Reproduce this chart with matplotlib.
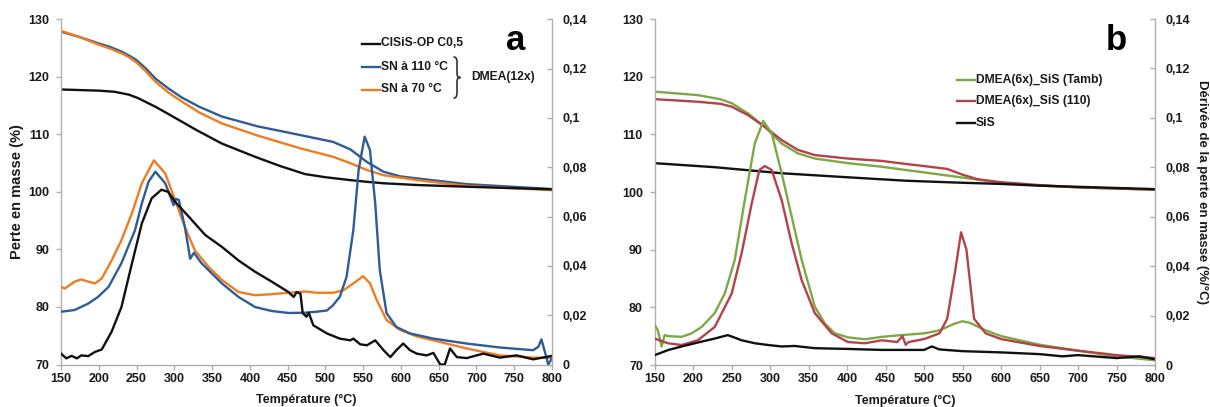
import matplotlib
matplotlib.use('Agg')
import matplotlib.pyplot as plt
from matplotlib.lines import Line2D
from matplotlib.path import Path
from matplotlib.patches import PathPatch

plt.rcParams['font.family'] = ['Liberation Sans', 'DejaVu Sans']
plt.rcParams['font.weight'] = 'bold'

# ---------------- Panel a : TG (mass, %) ----------------
a_blue_tg_T = [150, 175, 200, 215, 230, 240, 250, 262, 275, 292, 310, 333, 363, 410, 466, 510, 533, 555, 577, 599, 621, 687, 800]
a_blue_tg_v = [127.85, 126.9, 125.8, 125.2, 124.4, 123.7, 122.9, 121.5, 119.7, 118.0, 116.4, 114.8, 113.1, 111.4, 109.9,
               108.7, 107.4, 105.2, 103.5, 102.7, 102.35, 101.35, 100.5]
a_orange_tg_T = [150, 175, 200, 215, 230, 240, 250, 262, 275, 292, 310, 333, 363, 410, 466, 510, 533, 555, 577, 621, 687, 800]
a_orange_tg_v = [128.0, 126.9, 125.6, 124.9, 124.1, 123.4, 122.5, 121.0, 119.15, 117.3, 115.7, 113.8, 111.9, 109.8, 107.6,
                 106.1, 105.0, 103.8, 102.9, 102.05, 101.05, 100.3]
a_black_tg_T = [150, 200, 221, 240, 252, 275, 290, 310, 330, 363, 407, 440, 473, 500, 533, 555, 577, 621, 687, 800]
a_black_tg_v = [117.8, 117.6, 117.4, 116.9, 116.3, 114.8, 113.7, 112.2, 110.7, 108.4, 106.1, 104.5, 103.1, 102.55,
                102.05, 101.75, 101.5, 101.2, 100.9, 100.45]

# ---------------- Panel a : DTG (%/°C) ----------------
a_blue_dtg_T = [150, 168, 186, 199, 213, 230, 248, 257, 266, 275, 288, 299, 302, 306, 314, 321, 326, 336, 363, 385,
                407, 429, 451, 473, 488, 502, 510, 519, 528, 537, 544, 552, 559, 566, 572, 581, 594, 612, 643, 687,
                731, 775, 782, 786, 791, 795, 800]
a_blue_dtg_v = [.0214, .0221, .0247, .0274, .0315, .0411, .0545, .0653, .0742, .0782, .0735, .0646, .0672, .0667, .0558,
                .0429, .0453, .0411, .0329, .0274, .0233, .0217, .0209, .0210, .0214, .0219, .0240, .0274, .0355, .0545,
                .0789, .0924, .0870, .0653, .0383, .0208, .0152, .0126, .0105, .0085, .0069, .0058, .0072, .0102, .0047,
                .0000, .0025]
a_orange_dtg_T = [150, 155, 168, 177, 186, 195, 204, 217, 230, 244, 257, 273, 288, 301, 314, 327, 345, 363, 385, 407,
                  429, 451, 473, 488, 510, 524, 537, 550, 559, 568, 581, 599, 621, 643, 687, 731, 775, 800]
a_orange_dtg_v = [.0315, .0308, .0336, .0345, .0336, .0329, .0349, .0422, .0504, .0614, .0735, .0828, .0775, .0667,
                  .0558, .0464, .0397, .0343, .0294, .0281, .0285, .0291, .0296, .0291, .0291, .0301, .0329, .0358,
                  .0329, .0261, .0180, .0140, .0114, .0098, .0065, .0037, .0028, .0026]
a_black_dtg_T = [150, 157, 164, 171, 177, 186, 195, 204, 217, 230, 244, 257, 270, 283, 292, 301, 319, 341, 363, 385,
                 407, 429, 451, 458, 462, 467, 470, 475, 478, 484, 502, 519, 533, 537, 546, 555, 566, 577, 586, 594,
                 603, 612, 621, 634, 643, 652, 658, 665, 674, 687, 709, 731, 753, 775, 800]
a_black_dtg_v = [.0044, .0025, .0035, .0025, .0037, .0034, .0051, .0061, .0133, .0233, .0411, .0572, .0674, .0709,
                 .0700, .0660, .0600, .0525, .0477, .0422, .0376, .0336, .0294, .0274, .0294, .0287, .0208, .0194,
                 .0210, .0159, .0126, .0105, .0098, .0105, .0082, .0078, .0098, .0058, .0030, .0058, .0085, .0058,
                 .0044, .0037, .0047, .0000, .0000, .0065, .0030, .0026, .0044, .0028, .0037, .0021, .0035]

# ---------------- Panel b : TG ----------------
b_green_tg_T = [150, 206, 235, 250, 271, 293, 315, 336, 358, 401, 444, 477, 500, 550, 600, 650, 700, 800]
b_green_tg_v = [117.4, 116.8, 116.1, 115.4, 113.65, 111.3, 108.4, 106.7, 105.8, 105.0, 104.4, 103.8, 103.4, 102.5,
                101.6, 101.1, 100.8, 100.4]
b_red_tg_T = [150, 206, 235, 250, 271, 293, 315, 336, 358, 401, 444, 477, 500, 530, 550, 570, 600, 650, 700, 800]
b_red_tg_v = [116.1, 115.65, 115.3, 114.8, 113.35, 111.3, 109.0, 107.3, 106.4, 105.8, 105.4, 104.85, 104.5, 104.0,
              103.0, 102.2, 101.7, 101.2, 100.8, 100.4]
b_black_tg_T = [150, 228, 315, 401, 477, 550, 600, 650, 700, 800]
b_black_tg_v = [105.0, 104.3, 103.25, 102.55, 101.95, 101.6, 101.4, 101.1, 100.9, 100.5]

# ---------------- Panel b : DTG ----------------
b_green_dtg_T = [150, 154, 159, 163, 167, 185, 198, 211, 228, 241, 254, 267, 280, 291, 302, 315, 328, 341, 358, 371,
                 384, 401, 423, 445, 471, 500, 520, 540, 550, 560, 580, 600, 650, 700, 750, 800]
b_green_dtg_v = [.0161, .0141, .0075, .0121, .0117, .0114, .0128, .0154, .0210, .0289, .0425, .0667, .0896, .0987,
                 .0938, .0775, .0600, .0425, .0236, .0168, .0128, .0112, .0104, .0114, .0121, .0128, .0140, .0168,
                 .0177, .0170, .0140, .0117, .0082, .0058, .0035, .0019]
b_red_dtg_T = [150, 167, 185, 206, 228, 250, 263, 276, 286, 293, 302, 315, 328, 341, 358, 380, 401, 423, 445, 465,
               472, 476, 480, 500, 520, 530, 540, 548, 555, 565, 580, 600, 650, 700, 750, 800]
b_red_dtg_v = [.0107, .0088, .0081, .0100, .0154, .0289, .0453, .0653, .0789, .0805, .0789, .0667, .0492, .0343,
               .0210, .0128, .0093, .0088, .0100, .0093, .0117, .0082, .0093, .0105, .0128, .0187, .0373, .0537,
               .0467, .0187, .0128, .0105, .0077, .0058, .0040, .0028]
b_black_dtg_T = [150, 168, 185, 206, 228, 245, 263, 280, 297, 315, 332, 358, 401, 445, 477, 500, 510, 520, 550, 600,
                 650, 680, 700, 750, 780, 800]
b_black_dtg_v = [.0040, .0061, .0075, .0091, .0107, .0121, .0100, .0088, .0081, .0075, .0077, .0068, .0065, .0061,
                 .0061, .0061, .0075, .0063, .0056, .0051, .0044, .0035, .0040, .0028, .0035, .0023]

x_ticks = list(range(150, 801, 50))
y_ticks = list(range(70, 131, 10))
y2_ticks = [0, 0.02, 0.04, 0.06, 0.08, 0.10, 0.12, 0.14]
y2_labels = ['0', '0,02', '0,04', '0,06', '0,08', '0,1', '0,12', '0,14']

BLUE = '#2f5b96'
ORANGE = '#ee7d22'
BLACK = '#111111'
GREEN = '#7ea843'
RED = '#b3424a'
SPINE = '#b0b0b0'
TXT = '#1a1a1a'
LW = 1.7
FS = 9
LFS = 8.7

W, H = 1210, 407
fig = plt.figure(figsize=(W / 100, H / 100), dpi=100)
axL = fig.add_axes([61 / W, 1 - 364.5 / H, 491 / W, 345.2 / H])
axR = fig.add_axes([654.7 / W, 1 - 365 / H, 500.3 / W, 346 / H])


def style(ax):
    ax2 = ax.twinx()
    for a in (ax, ax2):
        a.set_xlim(150, 800)
        a.spines['top'].set_visible(False)
        for s in ('left', 'right', 'bottom'):
            a.spines[s].set_color(SPINE)
            a.spines[s].set_linewidth(1.0)
    ax.spines['right'].set_visible(False)
    ax2.spines['left'].set_visible(False)
    ax2.spines['bottom'].set_visible(False)
    ax.set_ylim(70, 130)
    ax2.set_ylim(0, 0.14)
    ax.set_xticks(x_ticks)
    ax.set_xticklabels([str(t) for t in x_ticks])
    ax.set_yticks(y_ticks)
    ax.set_yticklabels([str(t) for t in y_ticks])
    ax2.set_yticks(y2_ticks)
    ax2.set_yticklabels(y2_labels)
    ax.tick_params(axis='x', direction='out', length=3.5, width=1, color=SPINE,
                   labelsize=FS, labelcolor=TXT, pad=2.5)
    ax.tick_params(axis='y', direction='out', length=3.5, width=1, color=SPINE,
                   labelsize=FS, labelcolor=TXT, pad=5)
    ax2.tick_params(axis='y', direction='in', length=3.5, width=1, color=SPINE,
                    labelsize=FS, labelcolor=TXT, pad=7.5)
    ax.set_xlabel('Température (°C)', fontsize=FS, fontweight='bold', color=TXT, va='center')
    ax.xaxis.set_label_coords(0.5, -(400 - 364.5) / 345.2)
    return ax2


axL2 = style(axL)
axR2 = style(axR)

# panel a
axL.plot(a_blue_tg_T, a_blue_tg_v, color=BLUE, lw=LW)
axL.plot(a_orange_tg_T, a_orange_tg_v, color=ORANGE, lw=LW)
axL.plot(a_black_tg_T, a_black_tg_v, color=BLACK, lw=LW)
axL2.plot(a_orange_dtg_T, a_orange_dtg_v, color=ORANGE, lw=LW)
axL2.plot(a_blue_dtg_T, a_blue_dtg_v, color=BLUE, lw=LW)
axL2.plot(a_black_dtg_T, a_black_dtg_v, color=BLACK, lw=LW)
axL.set_ylabel('Perte en masse (%)', fontsize=10.5, fontweight='bold', color=TXT, va='center')
axL.yaxis.set_label_coords((17.5 - 61) / 491, 0.5)

# panel b
axR.plot(b_green_tg_T, b_green_tg_v, color=GREEN, lw=LW)
axR.plot(b_red_tg_T, b_red_tg_v, color=RED, lw=LW)
axR.plot(b_black_tg_T, b_black_tg_v, color=BLACK, lw=LW)
axR2.plot(b_green_dtg_T, b_green_dtg_v, color=GREEN, lw=LW)
axR2.plot(b_red_dtg_T, b_red_dtg_v, color=RED, lw=LW)
axR2.plot(b_black_dtg_T, b_black_dtg_v, color=BLACK, lw=LW)
axR2.set_ylabel('Dérivée de la perte en masse (%/°C)', fontsize=9.5, fontweight='bold',
                color=TXT, rotation=270, va='center')
axR2.yaxis.set_label_coords((1202 - 654.7) / 500.3, 0.5)


def fx(px):
    return px / W


def fy(py):
    return 1 - py / H


def legend_row(x0, x1, y, color, label):
    fig.add_artist(Line2D([fx(x0), fx(x1)], [fy(y), fy(y)], color=color, lw=LW, transform=fig.transFigure))
    fig.text(fx(x1 + 1), fy(y), label, fontsize=LFS, fontweight='bold', color=TXT, va='center', ha='left')


legend_row(362, 380, 43.5, BLACK, 'CISiS-OP C0,5')
legend_row(362, 380, 66.5, BLUE, 'SN à 110 °C')
legend_row(362, 380, 89.5, ORANGE, 'SN à 70 °C')

# curly brace grouping the two DMEA rows
bx, bt, bb, bm, bw = 453.5, 57.0, 98.0, 77.5, 7.0
pts = [(bx, bt), (bx + 3.5, bt), (bx + 3.5, bt + 3), (bx + 3.5, bt + 6),
       (bx + 3.5, bm - 5),
       (bx + 3.5, bm - 1), (bx + 4.5, bm), (bx + bw, bm),
       (bx + 4.5, bm), (bx + 3.5, bm + 1), (bx + 3.5, bm + 5),
       (bx + 3.5, bb - 6),
       (bx + 3.5, bb - 3), (bx + 3.5, bb), (bx, bb)]
codes = [Path.MOVETO, Path.CURVE4, Path.CURVE4, Path.CURVE4,
         Path.LINETO,
         Path.CURVE4, Path.CURVE4, Path.CURVE4,
         Path.CURVE4, Path.CURVE4, Path.CURVE4,
         Path.LINETO,
         Path.CURVE4, Path.CURVE4, Path.CURVE4]
brace = Path([(fx(px), fy(py)) for px, py in pts], codes)
fig.add_artist(PathPatch(brace, transform=fig.transFigure, facecolor='none',
                         edgecolor='#333333', lw=1.2))
fig.text(fx(471), fy(77), 'DMEA(12x)', fontsize=LFS, fontweight='bold', color=TXT, va='center', ha='left')
fig.text(fx(516), fy(40), 'a', fontsize=25, fontweight='bold', color='black', va='center', ha='center')

legend_row(957, 975, 79.5, GREEN, 'DMEA(6x)_SiS (Tamb)')
legend_row(957, 975, 101, RED, 'DMEA(6x)_SiS (110)')
legend_row(957, 975, 123, BLACK, 'SiS')
fig.text(fx(1116), fy(40), 'b', fontsize=25, fontweight='bold', color='black', va='center', ha='center')

fig.savefig('out.png', dpi=100)
